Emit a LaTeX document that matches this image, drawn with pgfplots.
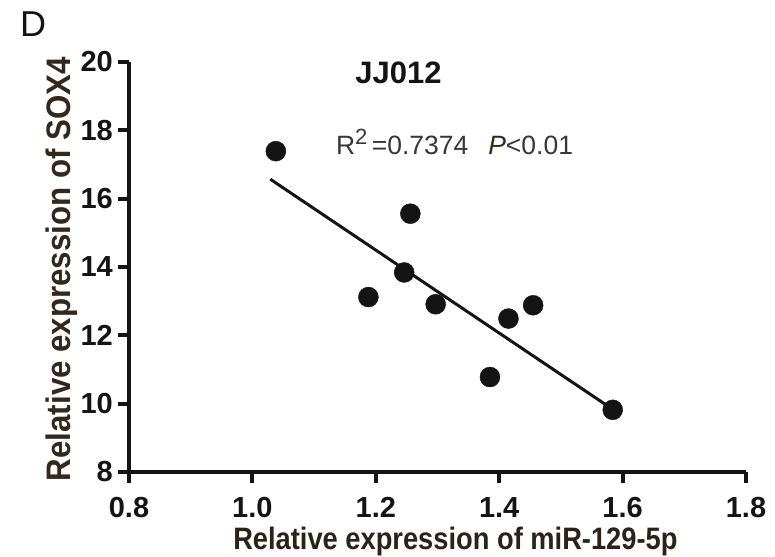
\documentclass[border=0pt]{standalone}
\usepackage{fontspec}
\setmainfont{Liberation Sans}
\newfontfamily\xlabfont[FakeStretch=0.88]{Liberation Sans}
\newfontfamily\ylabfont[FakeStretch=0.92]{Liberation Sans}
\usepackage{pgfplots}
\pgfplotsset{compat=1.18}
\definecolor{labbrown}{RGB}{52,40,28}
\definecolor{ink}{RGB}{20,20,20}
\begin{document}
\begin{tikzpicture}
\useasboundingbox (-129pt,-84pt) rectangle (646pt,472pt);
\begin{axis}[
  scale only axis, width=617pt, height=410pt,
  xmin=0.8, xmax=1.8, ymin=8, ymax=20,
  axis lines*=left,
  axis line style={line width=4pt, ink},
  tick align=outside,
  major tick length=11pt,
  every tick/.style={line width=4pt, ink},
  xtick={0.8,1.0,1.2,1.4,1.6,1.8},
  ytick={8,10,12,14,16,18,20},
  xticklabel style={/pgf/number format/fixed, /pgf/number format/fixed zerofill, /pgf/number format/precision=1},
  /pgf/number format/assume math mode=true,
  tick label style={font=\bfseries\fontsize{29}{30}\selectfont, text=ink, inner sep=0pt},
  yticklabel style={anchor=east, xshift=-5pt},
  xticklabel style={anchor=north, yshift=-14pt},
  xlabel={Relative expression of miR-129-5p},
  ylabel={Relative expression of SOX4},
  xlabel style={at={(axis description cs:0.529,-0.1878)}, anchor=base, font=\xlabfont\bfseries\fontsize{31}{33}\selectfont, text=labbrown!85!black, inner sep=0pt},
  ylabel style={at={(axis description cs:-0.0956,0.495)}, anchor=base, font=\ylabfont\bfseries\fontsize{34}{36}\selectfont, text=labbrown, inner sep=0pt},
  clip=false,
]
\addplot[only marks, mark=*, mark size=10pt, ink] coordinates {
  (1.038,17.39) (1.256,15.56) (1.246,13.84) (1.188,13.12) (1.297,12.91)
  (1.455,12.88) (1.415,12.49) (1.385,10.78) (1.584,9.82)
};
\addplot[line width=3pt, ink] coordinates {(1.029,16.57) (1.581,9.87)};
\node[anchor=base, inner sep=0pt, font=\bfseries\fontsize{31}{33}\selectfont, text=ink] at (axis cs:1.2368,19.384) {JJ012};
\node[anchor=base, inner sep=0pt, font=\fontsize{26.5}{28}\selectfont, text=ink!85] at (axis cs:1.3276,17.28) {R\raisebox{0.4em}{\fontsize{22}{22}\selectfont 2}\,=0.7374\hspace{0.75em}{\color{labbrown}\textit{P}}<0.01};
\node[anchor=base west, inner sep=0pt, font=\fontsize{36}{38}\selectfont, text=ink] at (axis cs:0.6234,20.76) {D};
\end{axis}
\end{tikzpicture}
\end{document}
